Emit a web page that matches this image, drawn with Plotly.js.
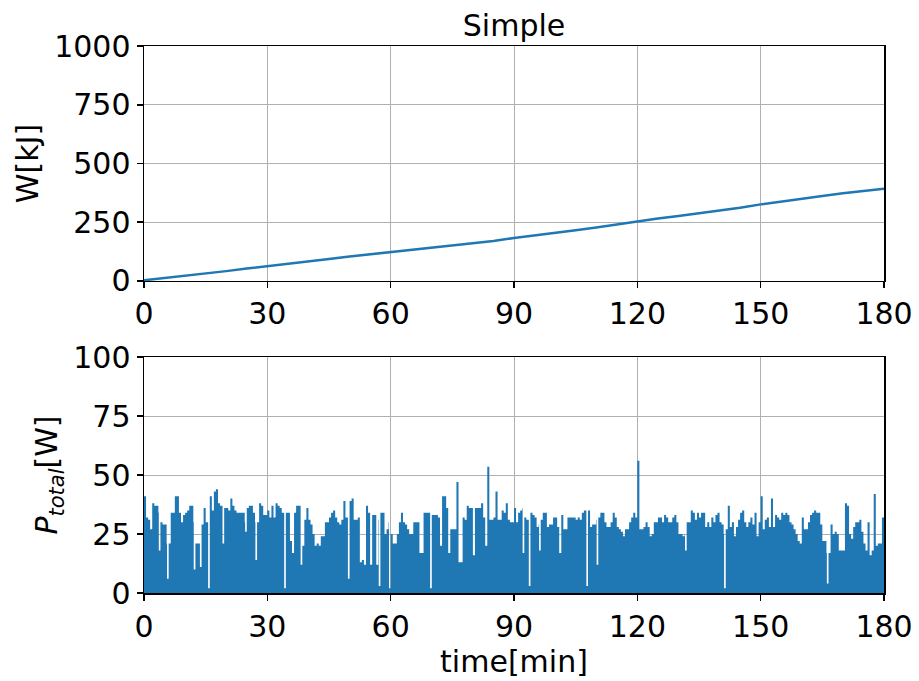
<!DOCTYPE html>
<html>
<head>
<meta charset="utf-8">
<script src="https://cdn.plot.ly/plotly-3.0.1.min.js"></script>
<style>html,body{margin:0;padding:0;background:#fff;}#chart{width:919px;height:681px;}</style>
</head>
<body>
<div id="chart"></div>
<script>
// ---- Data ----
const chartTitle = 'Simple';
const xTickVals = [0, 30, 60, 90, 120, 150, 180];

// Cumulative work W [kJ], sampled every 5 min
const workTime = [0,5,10,15,20,25,30,35,40,45,50,55,60,65,70,75,80,85,90,95,100,105,110,115,120,125,130,135,140,145,150,155,160,165,170,175,180];
const workKJ   = [3,12,22,32,42,53,64,74,85,94,104,113,122,131,140,149,158,170,183,193,204,216,228,241,255,266,277,288,300,312,326,339,351,362,373,383,393];

// Total power P_total [W], sampled every 0.5 min from 0 to 180
const powerStep = 0.5;
const powerW = [
  41,32,31,27,38,37,37,34,30,29, 29,21,21,34,34,41,41,34,30,33,
  34,35,37,37,30,21,21,21,29,36, 30,30,41,35,43,44,38,37,37,36,
  36,35,40,37,35,34,34,34,34,30, 36,37,37,34,30,30,38,37,33,33,
  35,32,37,32,38,37,36,34,34,34, 34,22,17,34,37,37,37,20,31,36,
  31,29,25,20,21,20,24,24,30,30, 32,34,35,32,30,29,31,39,32,32,
  39,40,31,31,32,13,14,12,37,34, 12,33,33,12,31,34,34,25,27,30,
  25,21,21,25,30,34,30,29,27,25, 25,30,30,30,17,17,34,34,34,34,
  33,33,33,32,20,41,41,36,17,27, 27,27,47,13,13,32,31,37,36,36,
  16,36,36,36,38,32,20,53.5,31,31, 32,43,31,31,35,34,38,31,30,30,
  36,30,34,35,36,32,31,31,34,33, 32,28,29,31,34,34,28,29,29,32,
  32,28,17,33,27,27,32,32,32,32, 31,32,31,34,35,35,35,28,29,29,
  31,32,34,34,30,28,28,30,34,32, 28,27,26,24,27,27,30,32,34,32,
  56,27,27,28,30,28,24,25,30,30, 32,32,30,33,32,30,30,32,33,30,
  25,25,24,25,30,30,35,34,31,34, 32,34,34,28,30,28,32,30,33,34,
  30,29,25,27,37,28,30,24,28,31, 34,35,30,28,30,32,29,34,24,30,
  41,27,31,32,28,40,28,33,32,31, 34,33,34,33,30,29,27,25,22,21,
  32,27,27,30,33,34,35,34,34,29, 22,22,17,17,29,25,26,25,18,18,
  18,38,37,25,23,28,30,30,31,26, 21,18,30,16,18,42,20,21,21,32,
  32
];
// Short drops of the power signal (thin white gaps in the picture)
const dipTime  = [3.6,5.6,12.1,13.6,15.6,19.1,24.6,27.1,34.1,38.1,49.6,57.1,59.6,69.6,92.1,93.6,96.1,107.6,110.1,131.6,141.1,166.1];
const dipPower = [18, 6, 10, 11, 2, 21, 26, 14, 2, 12, 6, 3, 2, 2, 17, 3, 18, 3, 12, 18, 2, 4];

// ---- Build the power series (regular samples + short drops), sorted by time ----
const pts = [];
powerW.forEach((v, i) => pts.push([i * powerStep, v]));
dipTime.forEach((t, i) => pts.push([t, dipPower[i]]));
pts.sort((a, b) => a[0] - b[0]);
const pTime = pts.map(p => p[0]);
const pVal = pts.map(p => p[1]);

const C0 = '#1f77b4';
const FONT = 'DejaVu Sans, Liberation Sans, sans-serif';
const FS = 30;

const traces = [
  {x: workTime, y: workKJ, type: 'scatter', mode: 'lines',
   line: {color: C0, width: 2.5}, xaxis: 'x', yaxis: 'y', hoverinfo: 'skip'},
  {x: pTime, y: pVal, type: 'scatter', mode: 'lines',
   line: {color: C0, width: 0, shape: 'hv'}, fill: 'tozeroy', fillcolor: C0,
   xaxis: 'x2', yaxis: 'y2', hoverinfo: 'skip'}
];

const axBase = {
  showgrid: true, gridcolor: '#b0b0b0', gridwidth: 1,
  showline: true, linecolor: '#000', linewidth: 1.5, mirror: true,
  ticks: 'outside', ticklen: 6, tickwidth: 1.5, tickcolor: '#000',
  zeroline: false, tickfont: {family: FONT, size: FS, color: '#000'}
};

const layout = {
  width: 919, height: 681,
  paper_bgcolor: '#fff', plot_bgcolor: '#fff',
  showlegend: false,
  margin: {l: 144, r: 35, t: 46, b: 88},
  font: {family: FONT, color: '#000'},
  title: {text: chartTitle, font: {family: FONT, size: 30, color: '#000'},
          xref: 'paper', x: 0.5, xanchor: 'center', yref: 'container', y: 1 - 25/681, yanchor: 'middle'},
  xaxis: Object.assign({}, axBase, {domain: [0, 1], range: [0, 180], tickvals: xTickVals, anchor: 'y'}),
  yaxis: Object.assign({}, axBase, {domain: [0.5704, 1], range: [0, 1000], tickvals: [0, 250, 500, 750, 1000], anchor: 'x',
          title: {text: 'W[kJ]', font: {family: FONT, size: FS, color: '#000'}, standoff: 6}}),
  xaxis2: Object.assign({}, axBase, {domain: [0, 1], range: [0, 180], tickvals: xTickVals, anchor: 'y2',
          title: {text: 'time[min]', font: {family: FONT, size: FS, color: '#000'}, standoff: 2}}),
  yaxis2: Object.assign({}, axBase, {domain: [0, 0.4314], range: [0, 100], tickvals: [0, 25, 50, 75, 100], anchor: 'x2',
          title: {text: '<i>P</i><sub><i>total</i></sub>[W]', font: {family: FONT, size: FS, color: '#000'}, standoff: 6}})
};

Plotly.newPlot('chart', traces, layout, {staticPlot: true, displayModeBar: false});
</script>
</body>
</html>
